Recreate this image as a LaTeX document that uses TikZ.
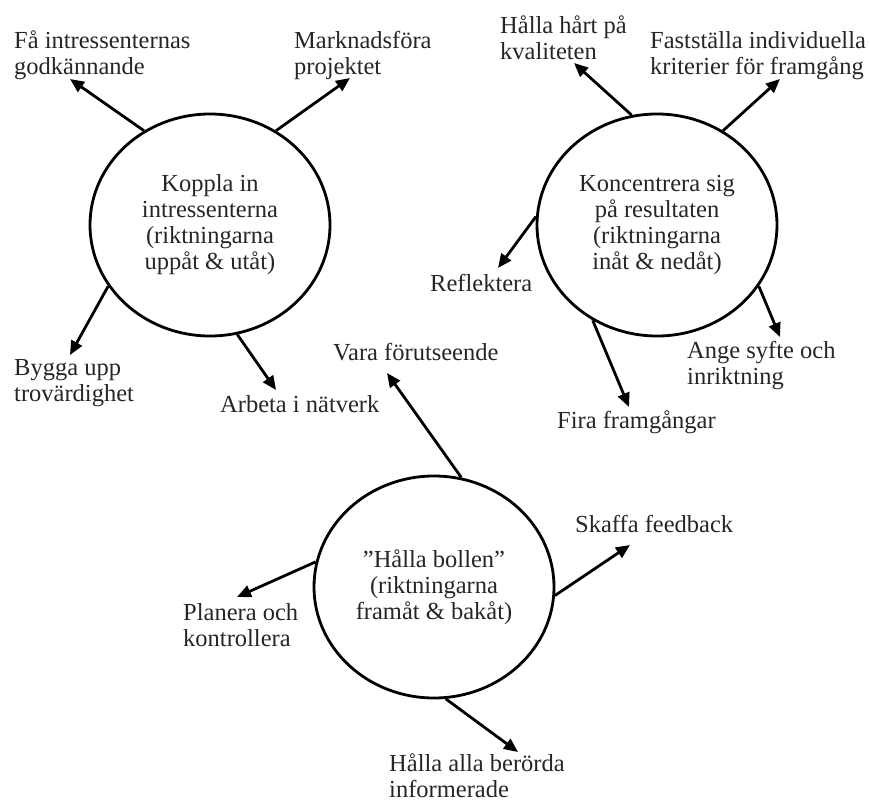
\documentclass[tikz,border=0pt]{standalone}
\usepackage{fontspec}
\setmainfont{Liberation Serif}
\usetikzlibrary{shapes.geometric,arrows.meta}
\begin{document}
\begin{tikzpicture}[x=1pt,y=-1pt,
  txt/.style={font=\fontsize{24.5}{26}\selectfont, inner sep=0pt, text=black!85},
  lbl/.style={txt, anchor=west, align=left},
  hub/.style={ellipse, draw, line width=2.8pt, inner sep=0pt, align=center, txt,
              minimum width=240pt, minimum height=222pt},
  arr/.style={line width=2.8pt, -{Triangle[length=14pt,width=12pt]}}]
\useasboundingbox (0,0) rectangle (870,803);

% hubs
\node[hub] (c1) at (210,225) {Koppla in\\intressenterna\\(riktningarna\\uppåt \& utåt)};
\node[hub] (c2) at (657,225) {Koncentrera sig\\på resultaten\\(riktningarna\\inåt \& nedåt)};
\node[hub] (c3) at (434,587) {”Hålla bollen”\\(riktningarna\\framåt \& bakåt)};

% labels
\node[lbl] (l1) at (14,55) {Få intressenternas\\godkännande};
\node[lbl] (l2) at (294,55) {Marknadsföra\\projektet};
\node[lbl] (l3) at (14,383) {Bygga upp\\trovärdighet};
\node[lbl] (l4) at (220,404) {Arbeta i nätverk};
\node[lbl] (l5) at (500,38) {Hålla hårt på\\kvaliteten};
\node[lbl] (l6) at (650,56) {Fastställa individuella\\kriterier för framgång};
\node[lbl] (l7) at (430,283) {Reflektera};
\node[lbl] (l8) at (687,366) {Ange syfte och\\inriktning};
\node[lbl] (l9) at (557,422) {Fira framgångar};
\node[lbl] (l10) at (333,352) {Vara förutseende};
\node[lbl] (l11) at (575,524) {Skaffa feedback};
\node[lbl] (l12) at (183,625) {Planera och\\kontrollera};
\node[lbl] (l13) at (389,776) {Hålla alla berörda\\informerade};

% arrow tips
\coordinate (t1) at (70,79);
\coordinate (t2) at (350,78);
\coordinate (t3) at (70,355);
\coordinate (t4) at (276,390);
\coordinate (t5) at (574,63);
\coordinate (t6) at (780,79);
\coordinate (t7) at (498,268);
\coordinate (t8) at (780,337);
\coordinate (t9) at (629,407);
\coordinate (t10) at (387,373);
\coordinate (t11) at (630,545);
\coordinate (t12) at (237,597);
\coordinate (t13) at (518,752);

% connectors
\draw[arr] (c1.125) -- (t1);
\draw[arr] (c1.55) -- (t2);
\draw[arr] (c1.211) -- (t3);
\draw[arr] (c1.284) -- (t4);
\draw[arr] (c2.103) -- (t5);
\draw[arr] (c2.55) -- (t6);
\draw[arr] (c2.176) -- (t7);
\draw[arr] (c2.329) -- (t8);
\draw[arr] (c2.236) -- (t9);
\draw[arr] (c3.76) -- (t10);
\draw[arr] (c3.356) -- (t11);
\draw[arr] (c3.168) -- (t12);
\draw[arr] (c3.276) -- (t13);
\end{tikzpicture}
\end{document}
